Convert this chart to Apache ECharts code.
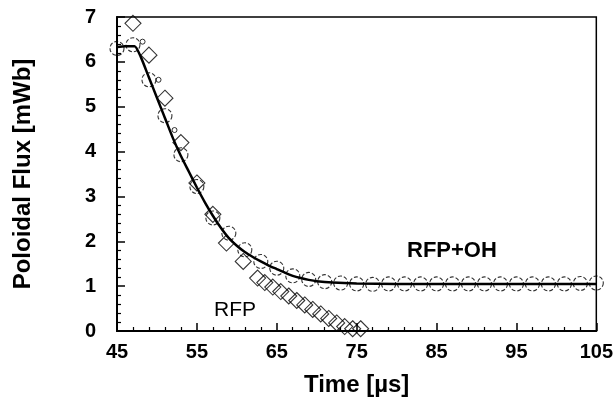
<!DOCTYPE html>
<html>
<head>
<meta charset="utf-8">
<script src="https://cdn.jsdelivr.net/npm/echarts@6/dist/echarts.min.js"></script>
<style>
  html, body { margin: 0; padding: 0; background: #fff; }
  #chart { width: 616px; height: 411px; }
</style>
</head>
<body>
<div id="chart"></div>
<script>
// 刻度
const xMajorTicks = [45, 55, 65, 75, 85, 95, 105];
const xMinorTicks = [47, 49, 51, 53, 57, 59, 61, 63, 67, 69, 71, 73, 77, 79, 81, 83, 87, 89, 91, 93, 97, 99, 101, 103];

// RFP+OH 圆圈数据
const ohTime = [45, 47, 49, 51, 53, 55, 57, 59, 61, 63, 65, 67, 69, 71, 73, 75, 77, 79, 81, 83, 85, 87, 89, 91, 93, 95, 97, 99, 101, 103, 105];
const ohFlux = [6.30, 6.38, 5.60, 4.80, 3.93, 3.22, 2.52, 2.18, 1.81, 1.55, 1.40, 1.23, 1.15, 1.10, 1.07, 1.05, 1.04, 1.05, 1.05, 1.05, 1.05, 1.05, 1.05, 1.05, 1.05, 1.05, 1.05, 1.05, 1.05, 1.06, 1.07];

// 小圆点
const dotTime = [48.2, 50.2, 52.2];
const dotFlux = [6.45, 5.60, 4.48];

// RFP 菱形数据
const rfpTime = [47, 49, 51, 53, 55, 57, 58.7, 60.8, 62.6, 63.5, 64.5, 65.5, 66.5, 67.5, 68.5, 69.5, 70.5, 71.5, 72.5, 73.5, 74.5, 75.5];
const rfpFlux = [6.86, 6.15, 5.19, 4.20, 3.30, 2.60, 1.96, 1.55, 1.18, 1.08, 0.98, 0.88, 0.78, 0.68, 0.58, 0.48, 0.38, 0.28, 0.18, 0.10, 0.05, 0.05];

// 拟合曲线
const fitTime = [45, 46, 47.2, 48, 49, 50, 51, 52, 53, 54, 55, 56, 57, 58, 59, 60, 61, 62, 63, 64, 65, 66, 67, 68, 69, 70, 72, 75, 80, 90, 105];
const fitFlux = [6.33, 6.35, 6.35, 6.10, 5.65, 5.20, 4.75, 4.30, 3.90, 3.55, 3.20, 2.87, 2.57, 2.30, 2.07, 1.90, 1.76, 1.65, 1.55, 1.46, 1.38, 1.30, 1.23, 1.18, 1.14, 1.11, 1.08, 1.06, 1.05, 1.05, 1.05];

const zip = (xs, ys) => xs.map((x, i) => [x, ys[i]]);
const FONT = 'Liberation Sans, Arial, sans-serif';

const chart = echarts.init(document.getElementById('chart'));
chart.setOption({
    animation: false,
    backgroundColor: '#fff',
    grid: { left: 117, right: 17, top: 17, bottom: 80, show: true, borderColor: '#000', borderWidth: 1.5 },
    xAxis: [
        {
            type: 'value', min: 45, max: 105,
            name: 'Time [µs]', nameLocation: 'middle', nameGap: 42,
            nameTextStyle: { fontFamily: FONT, fontWeight: 'bold', fontSize: 24, color: '#000' },
            axisLine: { lineStyle: { color: '#000', width: 2 } },
            axisTick: { inside: true, length: 8, customValues: xMajorTicks, lineStyle: { color: '#000', width: 1.5 } },
            axisLabel: { customValues: xMajorTicks, margin: 11, fontFamily: FONT, fontWeight: 'bold', fontSize: 20, color: '#000' },
            splitLine: { show: false },
        },
        {
            type: 'value', min: 45, max: 105, position: 'bottom',
            axisLine: { show: false },
            axisTick: { inside: true, length: 4, customValues: xMinorTicks, lineStyle: { color: '#000', width: 1.2 } },
            axisLabel: { show: false },
            splitLine: { show: false },
        },
    ],
    yAxis: {
        type: 'value', min: 0, max: 7, interval: 1,
        name: 'Poloidal Flux [mWb]', nameLocation: 'middle', nameGap: 82,
        nameTextStyle: { fontFamily: FONT, fontWeight: 'bold', fontSize: 24, color: '#000' },
        axisLine: { show: true, lineStyle: { color: '#000', width: 2 } },
        axisTick: { inside: true, length: 8, lineStyle: { color: '#000', width: 1.5 } },
        minorTick: { show: true, splitNumber: 5, length: 4, lineStyle: { color: '#000', width: 1.2 } },
        axisLabel: { margin: 21, fontFamily: FONT, fontWeight: 'bold', fontSize: 20, color: '#000' },
        splitLine: { show: false },
    },
    series: [
        {
            name: 'RFP', type: 'scatter', data: zip(rfpTime, rfpFlux),
            symbol: 'diamond', symbolSize: [16, 16],
            itemStyle: { color: 'rgba(0,0,0,0)', borderColor: '#000', borderWidth: 1.1 },
            emphasis: { disabled: true }, z: 2,
        },
        {
            name: 'RFP+OH', type: 'scatter', data: zip(ohTime, ohFlux),
            symbol: 'circle', symbolSize: 14,
            itemStyle: { color: 'rgba(0,0,0,0)', borderColor: '#000', borderWidth: 1.1, borderType: [4, 2] },
            emphasis: { disabled: true }, z: 3,
        },
        {
            name: 'dots', type: 'scatter', data: zip(dotTime, dotFlux),
            symbol: 'circle', symbolSize: 5,
            itemStyle: { color: 'rgba(0,0,0,0)', borderColor: '#000', borderWidth: 1 },
            emphasis: { disabled: true }, z: 3,
        },
        {
            name: 'fit', type: 'line', data: zip(fitTime, fitFlux),
            showSymbol: false, smooth: 0.2,
            lineStyle: { color: '#000', width: 2.5 },
            emphasis: { disabled: true }, z: 4,
        },
    ],
    graphic: [
        { type: 'text', left: 214, top: 300, style: { text: 'RFP', fontFamily: FONT, fontSize: 21, fill: '#000' } },
        { type: 'text', left: 407, top: 240, style: { text: 'RFP+OH', fontFamily: FONT, fontWeight: 'bold', fontSize: 22, fill: '#000' } },
    ],
});
</script>
</body>
</html>
